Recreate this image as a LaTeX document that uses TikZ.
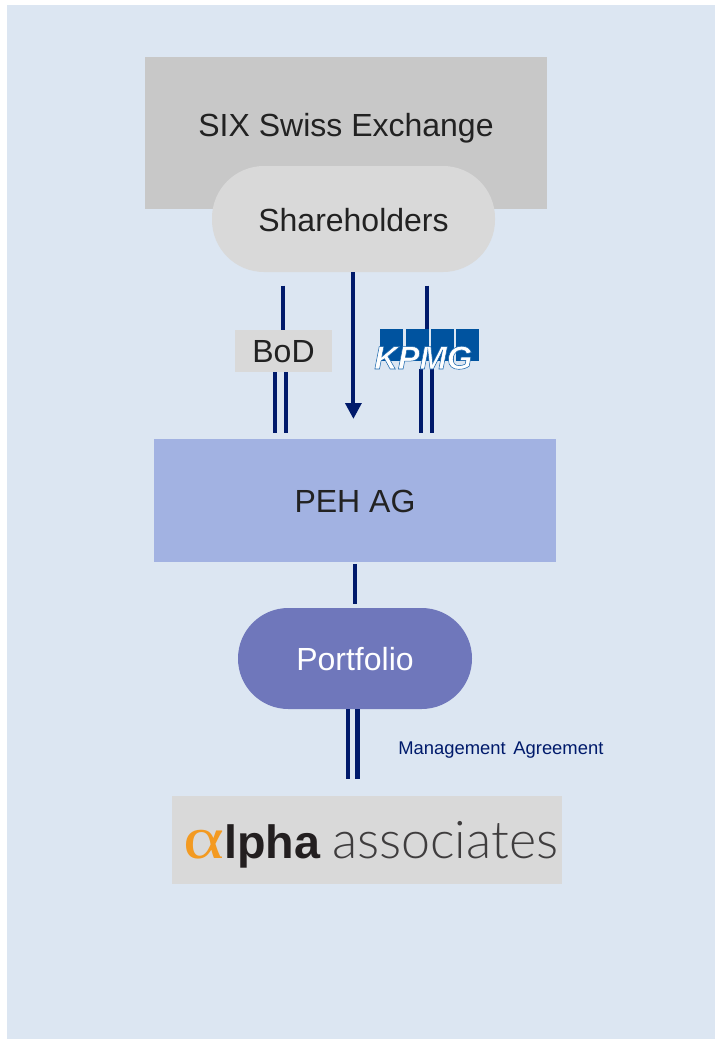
\documentclass[tikz,border=0pt]{standalone}
\usepackage{fontspec}
\usepackage{graphicx}
\usetikzlibrary{arrows.meta}
\setmainfont{Liberation Sans}
\newfontfamily\serifgr{Liberation Serif}
\newfontfamily\lightlat{Lato Light}
\definecolor{bgblue}{HTML}{DCE6F2}
\definecolor{sixgrey}{HTML}{C8C8C8}
\definecolor{lightgrey}{HTML}{D9D9D9}
\definecolor{pehblue}{HTML}{A2B2E2}
\definecolor{portblue}{HTML}{6F77BB}
\definecolor{navy}{HTML}{001A6B}
\definecolor{kpmgblue}{HTML}{00539F}
\definecolor{ink}{HTML}{222222}
\definecolor{alphaorange}{HTML}{F39A21}
\definecolor{logodark}{HTML}{231F20}
\definecolor{logogrey}{HTML}{3F3D3E}
\newcommand{\PX}[1]{#1*0.75pt}
\newcommand{\boxtext}[2]{\raisebox{-#1pt}[0pt][0pt]{#2}}
\newcommand{\outlined}{\special{pdf:code q 2 Tr 0.4 w 0.1 0.4 0.68 RG}}
\newcommand{\unoutlined}{\special{pdf:code 0 Tr Q}}
\tikzset{
  box/.style={inner sep=0pt,align=center,text=ink,font=\fontsize{24pt}{28pt}\selectfont},
  pill/.style={box,rounded corners=39pt},
  link/.style={draw=navy,line width=3.1pt},
  kpmgsq/.style={fill=kpmgblue,inner sep=0pt,minimum width=\PX{23},minimum height=\PX{32}},
}
\begin{document}
\begin{tikzpicture}[x=0.75pt,y=-0.75pt]
\useasboundingbox (0,0) rectangle (715,1039);
\fill[bgblue] (7,5) rectangle (715,1039);

% free ends of connectors
\coordinate (bodtop) at (283.3,285.7);
\coordinate (kpmgtop) at (426.7,285.7);
\coordinate (bodL) at (275.3,433.3);
\coordinate (bodR) at (286,433.3);
\coordinate (kpL) at (421.3,433.3);
\coordinate (kpR) at (432.3,433.3);
\coordinate (tip) at (353.4,419);

% boxes
\node[box,fill=sixgrey,minimum width=\PX{402},minimum height=\PX{152}] (six) at (346,133)
  {\boxtext{2.6}{SIX Swiss Exchange}};
\node[pill,fill=lightgrey,minimum width=\PX{283},minimum height=\PX{106}] (sh) at (353.5,219) {\boxtext{9.4}{Shareholders}};
\node[box,fill=lightgrey,minimum width=\PX{97},minimum height=\PX{42}] (bod) at (283.5,351) {\boxtext{8.8}{BoD}};
\node[box,fill=pehblue,minimum width=\PX{402},minimum height=\PX{123}] (peh) at (355,500.5) {\boxtext{9}{PEH AG}};
\node[pill,rounded corners=37.8pt,fill=portblue,text=white,minimum width=\PX{234},minimum height=\PX{101}] (pf) at (355,658.5) {\boxtext{9}{Portfolio}};
\node[fill=lightgrey,inner sep=0pt,minimum width=\PX{390},minimum height=\PX{88}] (alpha) at (367,840) {};

% connectors above the logos
\draw[link] (bodtop) -- (bod.north -| bodtop);
\draw[link] (bod.south -| bodL) -- (bodL);
\draw[link] (bod.south -| bodR) -- (bodR);
\draw[link] (kpmgtop) -- (426.7,335);
\draw[link] (kpL |- 0,369) -- (kpL);
\draw[link] (kpR |- 0,369) -- (kpR);
\draw[link,-{Triangle[length=12pt,width=11.8pt]}] (sh.south -| tip) -- (tip);
\draw[link] (peh.south) ++(0,1.5) -- (pf.north |- 0,604);
\draw[link] (pf.south -| 348,0) -- (348,779);
\draw[link] (pf.south -| 357.5,0) -- (357.5,779);

% KPMG logo
\node[kpmgsq] (k1) at (391.7,345) {};
\node[kpmgsq] (k2) at (417.7,345) {};
\node[kpmgsq] (k3) at (442,345) {};
\node[kpmgsq] (k4) at (467.5,345) {};
\node[anchor=base west,inner sep=0pt,text=white,font=\fontsize{24.5pt}{28pt}\selectfont\bfseries\itshape] (kpmg) at (374,369)
  {\outlined KPMG\unoutlined};

% label
\node[anchor=base west,inner sep=0pt,text=navy,font=\fontsize{13.8pt}{16pt}\selectfont] (ma) at (398,754)
  {Management\hspace{5.8pt}Agreement};

% alpha associates word mark
\node[anchor=base west,inner sep=0pt] (alogo) at (183,858)
  {{\serifgr\fontsize{45pt}{50pt}\selectfont\color{alphaorange}\scalebox{1.3}[1]{α}}{\fontsize{35pt}{40pt}\selectfont\bfseries\color{logodark}lpha}\hspace{9pt}{\lightlat\fontsize{39pt}{40pt}\selectfont\color{logogrey}associates}};
\end{tikzpicture}
\end{document}
